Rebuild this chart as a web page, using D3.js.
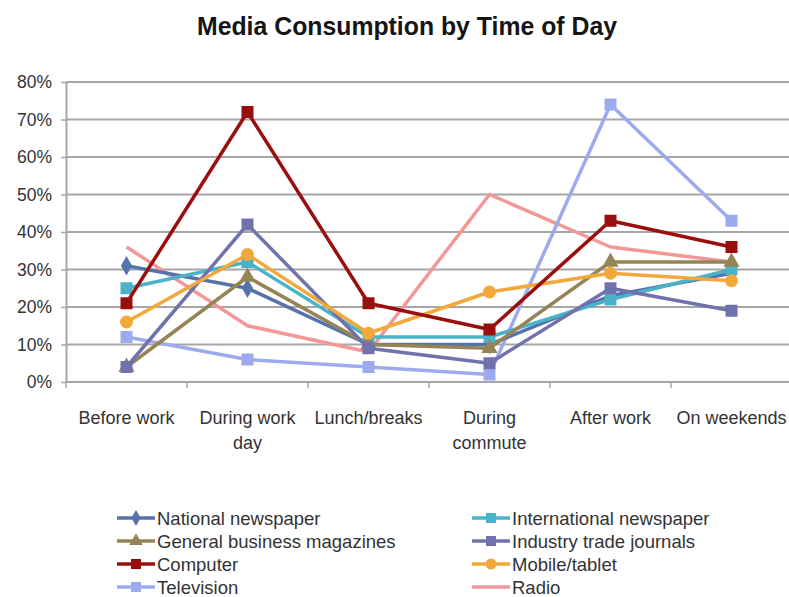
<!DOCTYPE html>
<html>
<head>
<meta charset="utf-8">
<script src="https://cdn.jsdelivr.net/npm/d3@7"></script>
<style>
  body { margin: 0; background: #fff; }
  svg { display: block; }
  .axis path, .axis line { stroke: #a6a6a6; }
  text { fill: #333; }
</style>
</head>
<body>
<div id="chart"></div>
<script>
const categories = [["Before work"], ["During work", "day"], ["Lunch/breaks"], ["During", "commute"], ["After work"], ["On weekends"]];
const categoryKeys = categories.map(c => c.join(" "));
const yTicks = [0, 0.1, 0.2, 0.3, 0.4, 0.5, 0.6, 0.7, 0.8];

const nationalNewspaper = [31, 25, 10, 10, 23, 29];
const internationalNewspaper = [25, 32, 12, 12, 22, 30];
const generalBusiness = [4, 28, 10, 9, 32, 32];
const industryTrade = [4, 42, 9, 5, 25, 19];
const computer = [21, 72, 21, 14, 43, 36];
const mobileTablet = [16, 34, 13, 24, 29, 27];
const television = [12, 6, 4, 2, 74, 43];
const radio = [36, 15, 8, 50, 36, 32];

const series = [
  { name: "National newspaper", values: nationalNewspaper, color: "#5672aa", marker: "diamond" },
  { name: "International newspaper", values: internationalNewspaper, color: "#4bb3c8", marker: "square" },
  { name: "General business magazines", values: generalBusiness, color: "#948456", marker: "triangle" },
  { name: "Industry trade journals", values: industryTrade, color: "#6f72ad", marker: "square" },
  { name: "Computer", values: computer, color: "#9b0e0e", marker: "square" },
  { name: "Mobile/tablet", values: mobileTablet, color: "#f2a83a", marker: "circle" },
  { name: "Television", values: television, color: "#9eaaee", marker: "square" },
  { name: "Radio", values: radio, color: "#f29898", marker: null }
];

const W = 789, H = 597;
const plot = { left: 66, right: 792, top: 82, bottom: 382 };

const svg = d3.select("#chart").append("svg").attr("width", W).attr("height", H);

// title, squeezed to look like the condensed heavy face of the original
svg.append("text")
  .attr("x", 197).attr("y", 35)
  .attr("textLength", 420)
  .attr("lengthAdjust", "spacingAndGlyphs")
  .style("font-family", "'Liberation Sans', Arial, sans-serif")
  .style("font-weight", "bold")
  .style("font-size", "26px")
  .style("fill", "#151515")
  .text("Media Consumption by Time of Day");

const x = d3.scaleBand().domain(categoryKeys).range([plot.left, plot.right]);
const y = d3.scaleLinear().domain([0, 0.8]).range([plot.bottom, plot.top]);
const cx = k => x(k) + x.bandwidth() / 2;

// gridlines + y axis
const yAxis = svg.append("g")
  .attr("class", "axis")
  .attr("transform", `translate(${plot.left},0)`)
  .call(d3.axisLeft(y).tickValues(yTicks).tickFormat(d3.format(".0%")).tickSizeOuter(0).tickSizeInner(5).tickPadding(9));
yAxis.selectAll("text")
  .style("font-family", "'Liberation Sans', Arial, sans-serif")
  .style("font-size", "17.5px");
yAxis.select(".domain").attr("stroke-width", 2);
yAxis.selectAll(".tick line").attr("stroke-width", 1.5);

svg.append("g")
  .selectAll("line")
  .data(yTicks)
  .join("line")
  .attr("x1", plot.left).attr("x2", W)
  .attr("y1", d => y(d)).attr("y2", d => y(d))
  .attr("stroke", "#a6a6a6")
  .attr("stroke-width", 2);

// x axis ticks at band edges
const edges = categoryKeys.map(k => x(k)).concat([x.range()[1]]);
svg.append("g")
  .selectAll("line")
  .data(edges)
  .join("line")
  .attr("x1", d => d).attr("x2", d => d)
  .attr("y1", plot.bottom).attr("y2", plot.bottom + 6)
  .attr("stroke", "#a6a6a6")
  .attr("stroke-width", 1.5);

const xLabels = svg.append("g")
  .selectAll("text")
  .data(categories)
  .join("text")
  .attr("text-anchor", "middle")
  .attr("x", (d, i) => cx(categoryKeys[i]))
  .attr("y", 424)
  .style("font-family", "'Liberation Sans', Arial, sans-serif")
  .style("font-size", "18px");
xLabels.each(function (d) {
  const t = d3.select(this);
  d.forEach((line, j) => {
    t.append("tspan").attr("x", t.attr("x")).attr("dy", j === 0 ? 0 : 25).text(line);
  });
});

function drawMarker(g, type, color, size) {
  if (!type) return;
  if (type === "circle") {
    g.append("circle").attr("r", size / 2 + 0.5).attr("fill", color);
  } else {
    const sym = type === "diamond" ? d3.symbolDiamond : type === "triangle" ? d3.symbolTriangle : d3.symbolSquare;
    const area = type === "diamond" ? size * size * 0.75 : type === "triangle" ? size * size * 0.8 : size * size;
    g.append("path").attr("d", d3.symbol(sym, area)()).attr("fill", color);
  }
}

const line = d3.line()
  .x((d, i) => cx(categoryKeys[i]))
  .y(d => y(d / 100));

const drawOrder = [7, 6, 0, 1, 2, 3, 5, 4];
drawOrder.forEach(si => {
  const s = series[si];
  const g = svg.append("g");
  g.append("path")
    .datum(s.values)
    .attr("d", line)
    .attr("fill", "none")
    .attr("stroke", s.color)
    .attr("stroke-width", 3.5)
    .attr("stroke-linejoin", "round");
  s.values.forEach((v, i) => {
    const m = g.append("g").attr("transform", `translate(${cx(categoryKeys[i])},${y(v / 100)})`);
    drawMarker(m, s.marker, s.color, 12);
  });
});

// legend
const legend = svg.append("g");
series.forEach((s, i) => {
  const col = i % 2, row = Math.floor(i / 2);
  const lx = col === 0 ? 117 : 472;
  const ly = 518 + row * 23;
  const item = legend.append("g").attr("transform", `translate(${lx},${ly})`);
  item.append("line").attr("x1", 0).attr("x2", 38).attr("stroke", s.color).attr("stroke-width", 3.5);
  drawMarker(item.append("g").attr("transform", "translate(19,0)"), s.marker, s.color, 10);
  item.append("text")
    .attr("x", 40).attr("y", 7)
    .style("font-family", "'Liberation Sans', Arial, sans-serif")
    .style("font-size", "18.5px")
    .text(s.name);
});
</script>
</body>
</html>
